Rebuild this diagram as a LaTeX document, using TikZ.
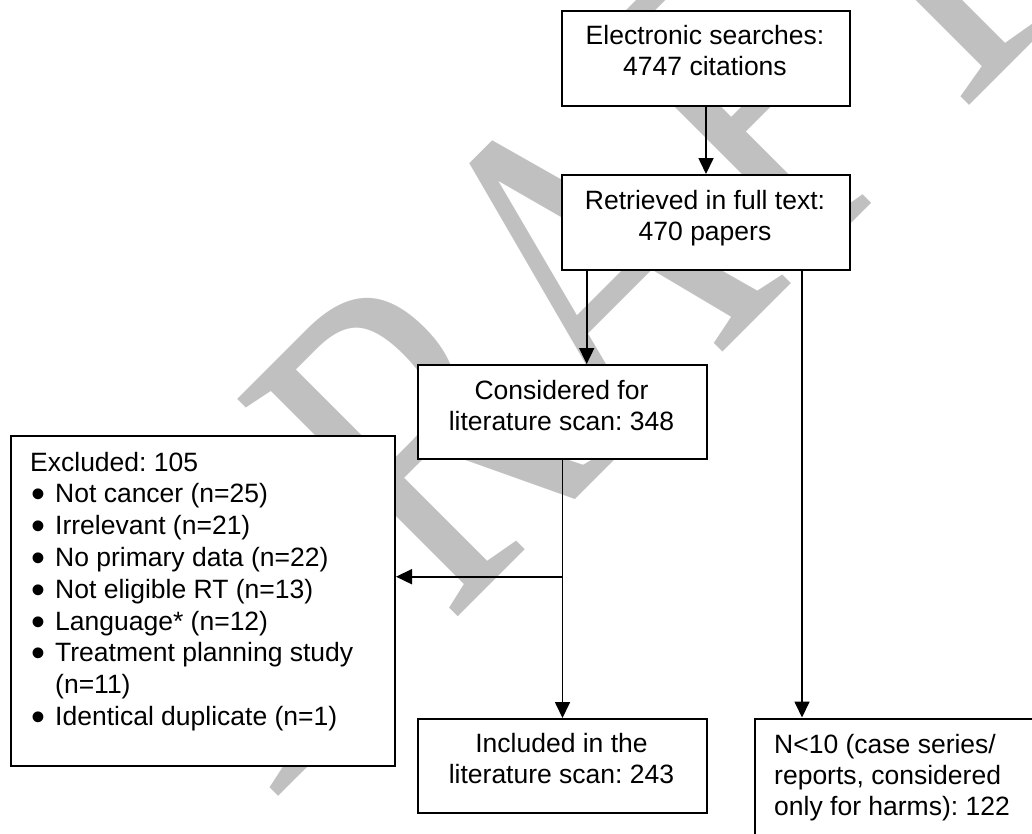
\documentclass[tikz,border=0pt]{standalone}
\usepackage{graphicx}
\usepackage{fontspec}
\setmainfont{Liberation Sans}
\newfontfamily\wmfont{Liberation Serif}
\usetikzlibrary{arrows.meta}
\definecolor{wmgray}{RGB}{192,192,192}
\frenchspacing
\newcommand{\blt}{\makebox[25pt][l]{\hspace{1pt}\raisebox{-5pt}{\scalebox{1.5}{•}}}}
\begin{document}
\begin{tikzpicture}[x=1pt,y=-1pt,
  box/.style={draw=black, line width=2pt, fill=white, rectangle, inner sep=0pt, anchor=north west},
  txt/.style={inner sep=0pt, align=center, anchor=base, font=\fontsize{26.5}{30.5}\selectfont},
  ltxt/.style={inner sep=0pt, align=left, anchor=base west},
  arr/.style={line width=1.7pt, -{Triangle[length=16pt,width=15pt]}},
  wm/.style={inner sep=0pt, anchor=base west, rotate=45, text=wmgray, font=\wmfont\fontsize{473}{473}\selectfont}]
\useasboundingbox (0,0) rectangle (1032,833);
\clip (0,0) rectangle (1032,833);
% watermark
\node[wm] (wmk) at (271,804) {\scalebox{0.74}[1]{DRAFT}};
% boxes
\node[box, minimum width=288pt, minimum height=95pt] (e) at (561,9.5) {};
\node[box, minimum width=288pt, minimum height=95pt] (r) at (561,174) {};
\node[box, minimum width=289pt, minimum height=94pt] (c) at (417,364) {};
\node[box, minimum width=289pt, minimum height=94pt] (i) at (417,718) {};
\node[box, minimum width=384.5pt, minimum height=330pt] (x) at (9.5,435) {};
\node[box, minimum width=400pt, minimum height=200pt] (n) at (753.5,717.5) {};
% texts (anchor = baseline of last line)
\node[txt] (et) at (705,75) {Electronic searches:\\4747 citations};
\node[txt] (rt) at (705,240) {Retrieved in full text:\\470 papers};
\node[txt] (ct) at (561.5,430) {Considered for\\literature scan: 348};
\node[txt] (it) at (561.5,783) {Included in the\\literature scan: 243};
\node[ltxt, font=\fontsize{26.5}{30.8}\selectfont] (nt) at (774,815) {N<10 (case series/\\reports, considered\\only for harms): 122};
\node[ltxt, font=\fontsize{26.5}{31.8}\selectfont] (xt) at (30,725.5) {Excluded: 105\\
\blt Not cancer (n=25)\\
\blt Irrelevant (n=21)\\
\blt No primary data (n=22)\\
\blt Not eligible RT (n=13)\\
\blt Language* (n=12)\\
\blt Treatment planning study\\
\makebox[25pt]{}(n=11)\\
\blt Identical duplicate (n=1)};
% connectors
\draw[arr] (e.south) -- (r.north);
\draw[arr] ([xshift=-119.3pt]r.south) -- ([xshift=-119.3pt]r.south |- c.north);
\draw[arr] ([xshift=96pt]r.south) -- ([xshift=96pt]r.south |- n.north);
\draw[arr] (c.south) -- (i.north);
\coordinate (br) at (561.5,576.7);
\draw[arr] (br) -- (x.east |- br);
\end{tikzpicture}
\end{document}
